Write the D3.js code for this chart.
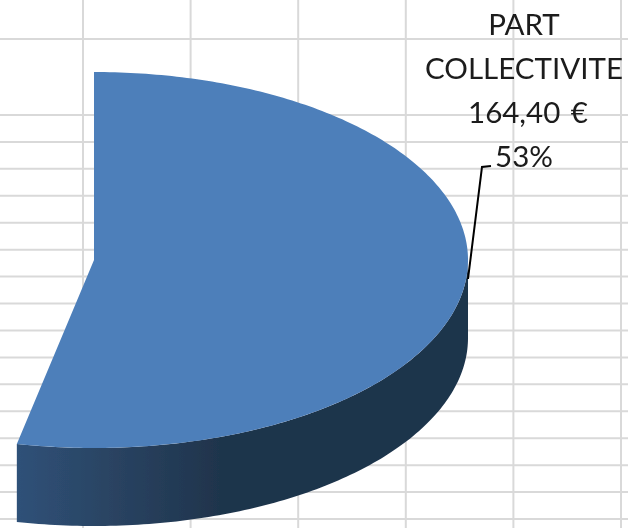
<!DOCTYPE html>
<html>
<head>
<meta charset="utf-8">
<script src="https://cdn.jsdelivr.net/npm/d3@7"></script>
<style>html,body{margin:0;padding:0;background:#fff;overflow:hidden}svg{display:block}</style>
</head>
<body>
<svg id="c" width="628" height="528"></svg>
<script>
// Data
const sliceNames = ["PART COLLECTIVITE", "AUTRE PART"];
const sliceValues = [164.40, 144.00];
const labelLines = ["PART", "COLLECTIVITE", "164,40 €", "53%"];
const sheetColumns = [0, 1, 2, 3, 4, 5];
const sheetRows = [-2.82, 0, 1, 2, 3, 4, 5, 6, 7, 8, 9, 10, 11, 12, 13, 14, 15];

const W = 628, H = 528;
const svg = d3.select("#c");

const defs = svg.append("defs");
const blur = defs.append("filter").attr("id", "soft")
  .attr("x", "-5%").attr("y", "-5%").attr("width", "110%").attr("height", "110%");
blur.append("feGaussianBlur").attr("stdDeviation", 0.6);
const grad = defs.append("linearGradient").attr("id", "side")
  .attr("gradientUnits", "userSpaceOnUse")
  .attr("x1", 17).attr("x2", 468).attr("y1", 0).attr("y2", 0);
[[0, "#2f5178"], [0.2, "#2a4463"], [0.45, "#1f344c"], [1, "#1f344c"]].forEach(s =>
  grad.append("stop").attr("offset", s[0]).attr("stop-color", s[1]));

// Spreadsheet grid behind the chart
const colX = d3.scaleLinear().domain([0, 5]).range([83, 621]);
const rowY = d3.scaleLinear().domain([0, 15]).range([115, 519]);
const grid = svg.append("g").attr("filter", "url(#soft)")
  .attr("stroke", "#d9d9d9").attr("stroke-width", 2);
grid.selectAll(".v").data(sheetColumns).join("line")
  .attr("x1", colX).attr("x2", colX).attr("y1", 0).attr("y2", H);
grid.selectAll(".h").data(sheetRows).join("line")
  .attr("y1", rowY).attr("y2", rowY).attr("x1", 0).attr("x2", W);

// 3D pie projection
const cx = 94, cy = 260, rx = 374, ry = 188, depth = 78;
const slices = d3.pie().sort(null)(sliceValues);
const first = slices[0];
const px = d3.scaleLinear().domain([0, 1]).range([cx, cx + rx]);
const py = d3.scaleLinear().domain([0, 1]).range([cy, cy + ry]);
const project = (a, dz) => [px(Math.sin(a)), py(-Math.cos(a)) + dz];

const line = d3.line();
const a0 = Math.PI / 2, a1 = first.endAngle;
const steps = d3.range(0, 121).map(i => a0 + (a1 - a0) * i / 120);
const sidePts = steps.map(a => project(a, 0))
  .concat(steps.slice().reverse().map(a => project(a, depth)));

const pie = svg.append("g").attr("filter", "url(#soft)");
pie.append("path").attr("d", line(sidePts) + "Z").attr("fill", "url(#side)");

const topSteps = d3.range(0, 241).map(i => first.startAngle + (first.endAngle - first.startAngle) * i / 240);
const topPts = [[cx, cy]].concat(topSteps.map(a => project(a, 0)));
pie.append("path").attr("d", line(topPts) + "Z").attr("fill", "#4d7fba");

// Leader line
svg.append("path").attr("filter", "url(#soft)")
  .attr("d", line([project(Math.PI / 2, 19), [482, 167], [491, 166]]))
  .attr("fill", "none").attr("stroke", "#000").attr("stroke-width", 2);

// Data label
const baselines = d3.scaleLinear().domain([0, 3]).range([35, 167]);
svg.append("g").attr("filter", "url(#soft)")
  .selectAll("text").data(labelLines).join("text")
  .attr("x", (d, i) => i === 2 ? 528 : 524).attr("y", (d, i) => baselines(i))
  .attr("text-anchor", "middle")
  .attr("word-spacing", 3)
  .attr("font-family", "Lato, 'Open Sans', sans-serif")
  .attr("font-size", 29.5)
  .attr("fill", "#1a1a1a")
  .text(d => d);
</script>
</body>
</html>
